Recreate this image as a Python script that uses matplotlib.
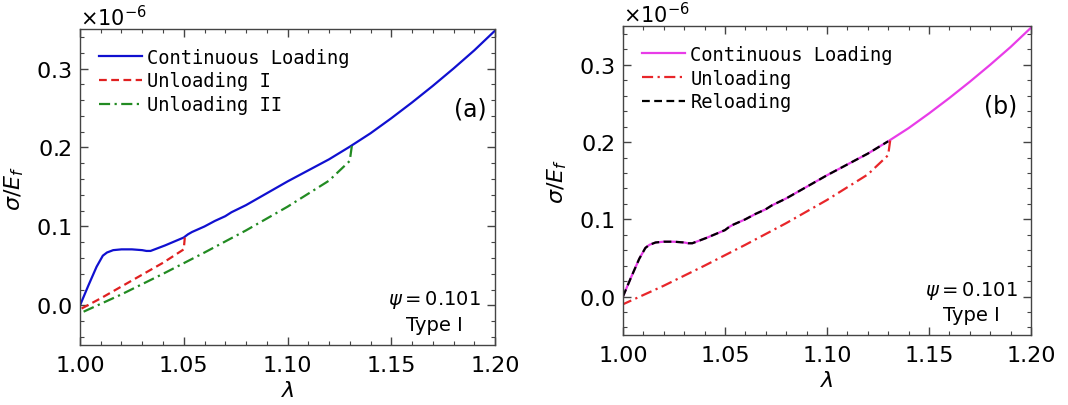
import numpy as np
import matplotlib
matplotlib.use("Agg")
import matplotlib.pyplot as plt
from matplotlib.ticker import MultipleLocator

SCALE = 1e-6

# Continuous loading (same curve in both panels), sigma/E_f in units of 1e-6
lam_load = [1.000, 1.004, 1.008, 1.011, 1.013, 1.016, 1.020, 1.025, 1.030, 1.032,
            1.034, 1.041, 1.050, 1.052, 1.054, 1.060, 1.065, 1.070, 1.073, 1.080,
            1.090, 1.100, 1.110, 1.120, 1.130, 1.140, 1.150, 1.160, 1.170, 1.180,
            1.190, 1.200]
sig_load = [0.000, 0.025, 0.049, 0.063, 0.067, 0.070, 0.071, 0.071, 0.070, 0.069,
            0.069, 0.076, 0.086, 0.090, 0.093, 0.100, 0.107, 0.113, 0.118, 0.127,
            0.142, 0.157, 0.171, 0.185, 0.201, 0.218, 0.237, 0.257, 0.278, 0.300,
            0.323, 0.348]

# Unloading I (from lambda = 1.05)
lam_unl1 = [1.0505, 1.0500, 1.040, 1.030, 1.020, 1.010, 1.000]
sig_unl1 = [0.086, 0.071, 0.054, 0.039, 0.024, 0.009, -0.005]

# Unloading II (from lambda = 1.13)
lam_unl2 = [1.1310, 1.1300, 1.120, 1.100, 1.080, 1.060, 1.040, 1.020, 1.000]
sig_unl2 = [0.202, 0.183, 0.158, 0.125, 0.095, 0.067, 0.040, 0.014, -0.010]

# Reloading (right panel) follows the loading path up to lambda = 1.13
lam_rel = [v for v in lam_load if v <= 1.1305]
sig_rel = sig_load[:len(lam_rel)]

plt.rcParams['font.family'] = 'DejaVu Sans'
plt.rcParams['mathtext.fontset'] = 'dejavusans'

fig = plt.figure(figsize=(10.68, 4.06), dpi=100)
axA = fig.add_axes([0.0749, 0.148, 0.3886, 0.778])
axB = fig.add_axes([0.5833, 0.172, 0.382, 0.761])

def style(ax):
    ax.set_xlim(1.0, 1.2)
    ax.set_ylim(-0.05 * SCALE, 0.35 * SCALE)
    ax.xaxis.set_major_locator(MultipleLocator(0.05))
    ax.xaxis.set_minor_locator(MultipleLocator(0.01))
    ax.yaxis.set_major_locator(MultipleLocator(0.1 * SCALE))
    ax.yaxis.set_minor_locator(MultipleLocator(0.02 * SCALE))
    ax.ticklabel_format(axis='y', style='sci', scilimits=(-6, -6), useMathText=True)
    ax.tick_params(which='both', direction='in', top=True, right=True,
                   labelsize=16, color='#444444')
    ax.tick_params(which='major', length=6, width=1.0)
    ax.tick_params(axis='y', which='major', pad=6)
    ax.tick_params(axis='x', which='major', pad=7)
    ax.tick_params(which='minor', length=3, width=0.8)
    ax.yaxis.get_offset_text().set_fontsize(15)
    for s in ax.spines.values():
        s.set_color('#444444')
        s.set_linewidth(1.0)
    ax.set_xlabel(r'$\lambda$', fontsize=16, labelpad=4)
    ax.set_ylabel(r'$\sigma/E_f$', fontsize=16, labelpad=7)
    ax.text(0.855, 0.146, r'$\psi = 0.101$', transform=ax.transAxes,
            ha='center', va='center', fontsize=14)
    ax.text(0.855, 0.066, 'Type I', transform=ax.transAxes,
            ha='center', va='center', fontsize=14)

sl = np.array(sig_load) * SCALE

axA.plot(lam_load, sl, color='#1010d0', lw=1.6, label='Continuous Loading')
axA.plot(lam_unl1, np.array(sig_unl1) * SCALE, color='#e02020', lw=1.6,
         ls=(0, (3.5, 2)), label='Unloading I')
axA.plot(lam_unl2, np.array(sig_unl2) * SCALE, color='#228b22', lw=1.6,
         ls=(0, (5, 2, 1, 2)), label='Unloading II')
style(axA)
axA.text(0.94, 0.747, '(a)', transform=axA.transAxes, ha='center', va='center', fontsize=17)
axA.legend(loc='upper left', bbox_to_anchor=(0.0, 1.0), frameon=False,
           prop={'family': 'DejaVu Sans Mono', 'size': 13.5},
           handlelength=2.3, handletextpad=0.3, labelspacing=0.25, borderaxespad=0.6)

axB.plot(lam_load, sl, color='#e83ce8', lw=1.6, label='Continuous Loading')
axB.plot(lam_unl2, np.array(sig_unl2) * SCALE, color='#e8262a', lw=1.6,
         ls=(0, (5, 2, 1, 2)), label='Unloading')
axB.plot(lam_rel, np.array(sig_rel) * SCALE, color='black', lw=1.6,
         ls=(0, (3.5, 2)), label='Reloading')
style(axB)
axB.text(0.926, 0.742, '(b)', transform=axB.transAxes, ha='center', va='center', fontsize=17)
axB.legend(loc='upper left', bbox_to_anchor=(0.0, 1.0), frameon=False,
           prop={'family': 'DejaVu Sans Mono', 'size': 13.5},
           handlelength=2.3, handletextpad=0.3, labelspacing=0.25, borderaxespad=0.6)

fig.savefig('out.png', dpi=100)
